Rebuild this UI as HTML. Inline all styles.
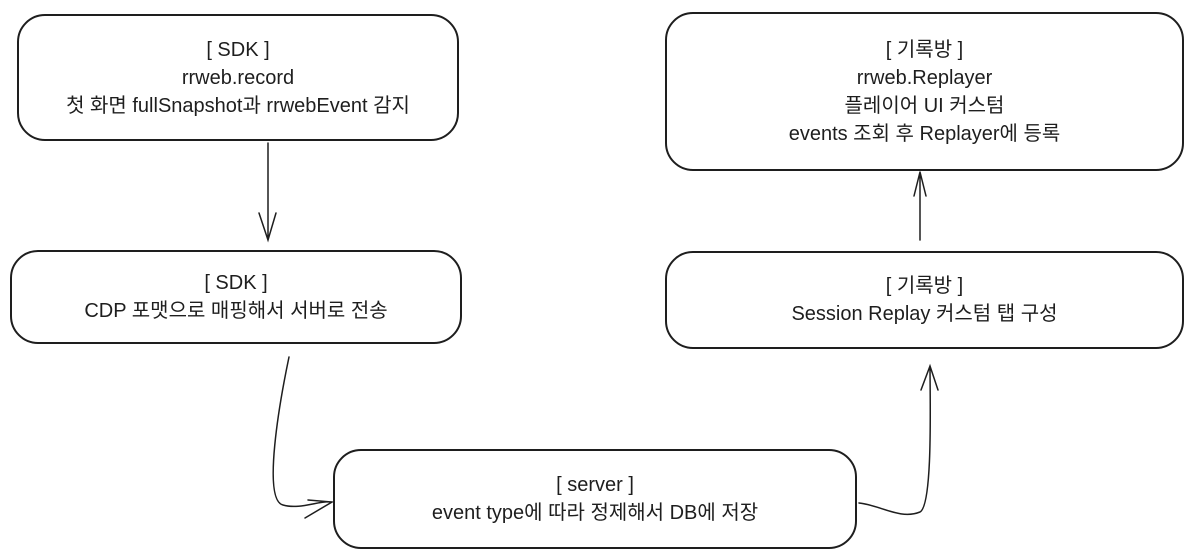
<!DOCTYPE html>
<html><head><meta charset="utf-8"><style>
body{margin:0;width:1200px;height:560px;background:#fff;overflow:hidden;position:relative;font-family:"Liberation Sans","Noto Sans CJK KR",sans-serif;color:#1e1e1e}
.b{position:absolute;border:2px solid #1e1e1e;border-radius:28px;box-sizing:border-box;display:flex;flex-direction:column;justify-content:center;align-items:center;text-align:center;font-size:20px;line-height:28px}
svg{position:absolute;left:0;top:0}
</style></head><body>
<div class="b" style="left:17px;top:14px;width:442px;height:127px">[ SDK ]<br>rrweb.record<br>첫 화면 fullSnapshot과 rrwebEvent 감지</div>
<div class="b" style="left:10px;top:250px;width:452px;height:94px">[ SDK ]<br>CDP 포맷으로 매핑해서 서버로 전송</div>
<div class="b" style="left:333px;top:449px;width:524px;height:100px">[ server ]<br>event type에 따라 정제해서 DB에 저장</div>
<div class="b" style="left:665px;top:251px;width:519px;height:98px">[ 기록방 ]<br>Session Replay 커스텀 탭 구성</div>
<div class="b" style="left:665px;top:12px;width:519px;height:159px">[ 기록방 ]<br>rrweb.Replayer<br>플레이어 UI 커스텀<br>events 조회 후 Replayer에 등록</div>
<svg width="1200" height="560" fill="none" stroke="#1e1e1e" stroke-width="1.5" stroke-linecap="round">
<path d="M268 143 L268 240 M259 213 L268 240 L276 213"/>
<path d="M289 357 C280 400 262 500 283 505 C300 510 320 500 332 502 M305 518 L332 502 L308 500"/>
<path d="M859 503 C880 505 900 520 920 512 C933 505 930 400 930 366 M921 390 L930 366 L938 390"/>
<path d="M920 240 L920 172 M914 196 L920 172 L926 196"/>
</svg>
</body></html>
